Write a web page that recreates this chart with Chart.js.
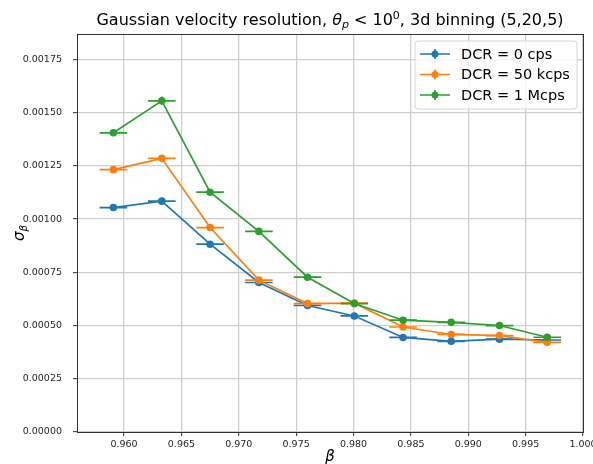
<!DOCTYPE html>
<html>
<head>
<meta charset="utf-8">
<script src="https://cdn.jsdelivr.net/npm/chart.js@4.4.1/dist/chart.umd.min.js"></script>
<style>
  html, body { margin: 0; padding: 0; background: #ffffff; }
  #wrap { width: 593px; height: 464px; }
</style>
</head>
<body>
<div id="wrap"><canvas id="c" width="593" height="464"></canvas></div>
<script>
// ---- data ----
const betaCenters = [0.95907, 0.96329, 0.96750, 0.97175, 0.97599, 0.98007, 0.98432, 0.98851, 0.99272, 0.99688];
const betaErr     = [0.0012, 0.0012, 0.0012, 0.0012, 0.0012, 0.0012, 0.0012, 0.0012, 0.0012, 0.0012];

const sigmaDCR0    = [0.001054, 0.001084, 0.000882, 0.000702, 0.000594, 0.000545, 0.000444, 0.000426, 0.000436, 0.000432];
const sigmaDCR0Err = [0.000006, 0.000008, 0.000006, 0.000005, 0.000004, 0.000004, 0.000003, 0.000003, 0.000003, 0.000003];

const sigmaDCR50k    = [0.001232, 0.001285, 0.000960, 0.000713, 0.000603, 0.000605, 0.000493, 0.000458, 0.000453, 0.000421];
const sigmaDCR50kErr = [0.000008, 0.000012, 0.000007, 0.000005, 0.000004, 0.000004, 0.000004, 0.000003, 0.000003, 0.000003];

const sigmaDCR1M    = [0.001405, 0.001555, 0.001126, 0.000942, 0.000727, 0.000603, 0.000525, 0.000515, 0.000500, 0.000445];
const sigmaDCR1MErr = [0.000010, 0.000020, 0.000010, 0.000008, 0.000006, 0.000005, 0.000004, 0.000004, 0.000004, 0.000004];

const seriesLabels = ['DCR = 0 cps', 'DCR = 50 kcps', 'DCR = 1 Mcps'];
const seriesColors = ['#1f77b4', '#ff7f0e', '#2ca02c'];

const xTickStep = 0.005;
const yTickStep = 0.00025;

// ---- build datasets ----
function pts(ys) { return betaCenters.map((b, i) => ({ x: b, y: ys[i] })); }
const allY = [sigmaDCR0, sigmaDCR50k, sigmaDCR1M];
const allYErr = [sigmaDCR0Err, sigmaDCR50kErr, sigmaDCR1MErr];

const datasets = allY.map((ys, k) => ({
  label: seriesLabels[k],
  data: pts(ys),
  yErr: allYErr[k],
  xErr: betaErr,
  showLine: true,
  borderColor: seriesColors[k],
  backgroundColor: seriesColors[k],
  pointBackgroundColor: seriesColors[k],
  pointBorderWidth: 0,
  pointRadius: 3.8,
  borderWidth: 1.7,
  order: 3 - k
}));

const FONT = '"DejaVu Sans", sans-serif';

const errorBars = {
  id: 'errorBars',
  beforeDatasetDraw(chart, args) {
    const ds = chart.data.datasets[args.index];
    const xs = chart.scales.x, ys = chart.scales.y, ctx = chart.ctx;
    const a = chart.chartArea;
    ctx.save();
    ctx.beginPath();
    ctx.rect(a.left, a.top, a.right - a.left, a.bottom - a.top);
    ctx.clip();
    ctx.strokeStyle = ds.borderColor;
    ctx.lineWidth = 1.7;
    ds.data.forEach((p, j) => {
      const px = xs.getPixelForValue(p.x), py = ys.getPixelForValue(p.y);
      const x0 = xs.getPixelForValue(p.x - ds.xErr[j]), x1 = xs.getPixelForValue(p.x + ds.xErr[j]);
      const y0 = ys.getPixelForValue(p.y - ds.yErr[j]), y1 = ys.getPixelForValue(p.y + ds.yErr[j]);
      ctx.beginPath();
      ctx.moveTo(x0, py); ctx.lineTo(x1, py);
      ctx.moveTo(px, y0); ctx.lineTo(px, y1);
      ctx.stroke();
    });
    ctx.restore();
  }
};

const decorations = {
  id: 'decorations',
  afterDraw(chart) {
    const ctx = chart.ctx, a = chart.chartArea;
    ctx.save();
    ctx.fillStyle = '#000';
    ctx.textBaseline = 'alphabetic';

    // title with mathtext pieces
    const tSize = 16;
    const parts = [
      { t: 'Gaussian velocity resolution, ', f: `${tSize}px ${FONT}`, dy: 0 },
      { t: 'θ', f: `italic ${tSize}px ${FONT}`, dy: 0 },
      { t: 'p', f: `italic ${Math.round(tSize * 0.7)}px ${FONT}`, dy: 3 },
      { t: ' < 10', f: `${tSize}px ${FONT}`, dy: 0 },
      { t: '0', f: `${Math.round(tSize * 0.7)}px ${FONT}`, dy: -6 },
      { t: ', 3d binning (5,20,5)', f: `${tSize}px ${FONT}`, dy: 0 }
    ];
    let total = 0;
    parts.forEach(p => { ctx.font = p.f; p.w = ctx.measureText(p.t).width; total += p.w; });
    let x = (a.left + a.right) / 2 - total / 2;
    const baseY = 25;
    parts.forEach(p => { ctx.font = p.f; ctx.textAlign = 'left'; ctx.fillText(p.t, x, baseY + p.dy); x += p.w; });

    // x-axis title: beta
    ctx.font = `italic 15px ${FONT}`;
    ctx.textAlign = 'center';
    ctx.fillText('β', (a.left + a.right) / 2, 461);

    // y-axis title: sigma_beta rotated
    ctx.save();
    ctx.translate(24, (a.top + a.bottom) / 2);
    ctx.rotate(-Math.PI / 2);
    ctx.font = `italic 15px ${FONT}`;
    ctx.textAlign = 'left';
    const sw = ctx.measureText('σ').width;
    ctx.font = `italic 10.5px ${FONT}`;
    const bw = ctx.measureText('β').width;
    const start = -(sw + bw) / 2;
    ctx.font = `italic 15px ${FONT}`;
    ctx.fillText('σ', start, 0);
    ctx.font = `italic 10.5px ${FONT}`;
    ctx.fillText('β', start + sw, 3);
    ctx.restore();

    // legend (upper right, inside axes)
    const lw = 162, lh = 68;
    const lx = a.right - 6 - lw, ly = a.top + 7;
    ctx.beginPath();
    if (ctx.roundRect) ctx.roundRect(lx, ly, lw, lh, 3); else ctx.rect(lx, ly, lw, lh);
    ctx.fillStyle = 'rgba(255,255,255,0.8)';
    ctx.fill();
    ctx.strokeStyle = '#d6d6d6';
    ctx.lineWidth = 1;
    ctx.stroke();
    chart.data.datasets.forEach((ds, i) => {
      const cy = ly + 13 + i * 20.5;
      ctx.strokeStyle = ds.borderColor;
      ctx.lineWidth = 1.7;
      ctx.beginPath();
      ctx.moveTo(lx + 5, cy); ctx.lineTo(lx + 35, cy);
      ctx.moveTo(lx + 20, cy - 5); ctx.lineTo(lx + 20, cy + 5);
      ctx.stroke();
      ctx.fillStyle = ds.borderColor;
      ctx.beginPath();
      ctx.arc(lx + 20, cy, 3.5, 0, Math.PI * 2);
      ctx.fill();
      ctx.fillStyle = '#000';
      ctx.font = `14.5px ${FONT}`;
      ctx.textAlign = 'left';
      ctx.textBaseline = 'middle';
      ctx.fillText(ds.label, lx + 46, cy + 1);
      ctx.textBaseline = 'alphabetic';
    });
    ctx.restore();
  }
};

new Chart(document.getElementById('c'), {
  type: 'scatter',
  data: { datasets },
  options: {
    responsive: false,
    devicePixelRatio: 1,
    animation: false,
    layout: { padding: { top: 34, right: 10, left: 0, bottom: 0 } },
    plugins: {
      legend: { display: false },
      tooltip: { enabled: false },
      title: { display: false }
    },
    scales: {
      x: {
        type: 'linear',
        min: 0.9559,
        max: 1.0,
        ticks: {
          stepSize: xTickStep,
          includeBounds: false,
          font: { family: FONT, size: 9.5 },
          color: '#262626',
          padding: 3,
          maxRotation: 0,
          autoSkip: false,
          callback: v => v.toFixed(3)
        },
        grid: { color: '#cfcfcf', lineWidth: 1.3, tickLength: 4, tickColor: '#333', tickWidth: 1 },
        border: { color: '#333', width: 1 },
        afterFit(s) { s.height = 32; s.paddingLeft = 0; s.paddingRight = 0; }
      },
      y: {
        type: 'linear',
        min: 0,
        max: 0.001869,
        ticks: {
          stepSize: yTickStep,
          includeBounds: false,
          font: { family: FONT, size: 9.5 },
          color: '#262626',
          padding: 11,
          callback: v => v.toFixed(5)
        },
        grid: { color: '#cfcfcf', lineWidth: 1.3, tickLength: 4, tickColor: '#333', tickWidth: 1 },
        border: { color: '#333', width: 1 },
        afterFit(s) { s.width = 77; s.paddingTop = 0; s.paddingBottom = 0; }
      },
      x2: {
        type: 'linear', position: 'top', display: true,
        ticks: { display: false }, grid: { display: false, drawTicks: false },
        border: { color: '#333', width: 1 },
        afterFit(s) { s.height = 0; }
      },
      y2: {
        type: 'linear', position: 'right', display: true,
        ticks: { display: false }, grid: { display: false, drawTicks: false },
        border: { color: '#333', width: 1 },
        afterFit(s) { s.width = 0; }
      }
    }
  },
  plugins: [errorBars, decorations]
});
</script>
</body>
</html>
